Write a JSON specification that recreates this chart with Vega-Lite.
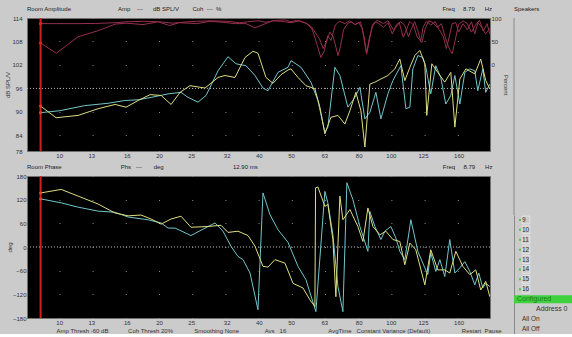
{
  "$schema": "https://vega.github.io/schema/vega-lite/v6.json",
  "background": "#cbcbcb",
  "padding": {"left": 4, "top": 5, "right": 2, "bottom": 0},
  "config": {
    "font": "Liberation Sans",
    "view": {"fill": "#000000", "stroke": "#707070", "strokeWidth": 1},
    "axis": {"labelFontSize": 6, "titleFontSize": 6, "titleFontWeight": "normal", "labelColor": "#333333", "titleColor": "#333333", "domain": false, "ticks": false, "labelPadding": 3, "grid": false, "labelOverlap": false, "labelBound": false, "tickCount": 30},
    "title": {"fontSize": 6, "fontWeight": "normal", "color": "#222222", "anchor": "start", "offset": 3, "frame": "group"},
    "line": {"strokeWidth": 1, "clip": true}
  },
  "datasets": {
    "amp": [
      {"s":"c","f":8.79,"v":89.8},{"s":"c","f":10.05,"v":90.3},{"s":"c","f":11.95,"v":91.6},{"s":"c","f":14.04,"v":92.2},{"s":"c","f":15.77,"v":92.9},{"s":"c","f":17.3,"v":93.1},{"s":"c","f":18.93,"v":93.7},{"s":"c","f":21.3,"v":94.6},{"s":"c","f":23.3,"v":95.0},{"s":"c","f":24.46,"v":93.7},{"s":"c","f":26.23,"v":92.5},{"s":"c","f":27.73,"v":94.2},{"s":"c","f":30.13,"v":100.5},{"s":"c","f":32.28,"v":104.1},{"s":"c","f":34.12,"v":102.3},{"s":"c","f":36.59,"v":101.8},{"s":"c","f":38.94,"v":99.3},{"s":"c","f":41.16,"v":96.1},{"s":"c","f":42.61,"v":95.4},{"s":"c","f":45.67,"v":100.1},{"s":"c","f":48.96,"v":101.4},{"s":"c","f":50.0,"v":103.1},{"s":"c","f":53.58,"v":101.4},{"s":"c","f":57.41,"v":97.6},{"s":"c","f":60.26,"v":92.9},{"s":"c","f":63.25,"v":84.8},{"s":"c","f":64.58,"v":86.1},{"s":"c","f":67.8,"v":101.4},{"s":"c","f":70.2,"v":99.3},{"s":"c","f":74.21,"v":91.2},{"s":"c","f":77.91,"v":93.7},{"s":"c","f":80.66,"v":96.3},{"s":"c","f":83.51,"v":88.2},{"s":"c","f":86.45,"v":89.9},{"s":"c","f":90.13,"v":95.0},{"s":"c","f":93.31,"v":88.2},{"s":"c","f":97.95,"v":94.6},{"s":"c","f":101.4,"v":98.0},{"s":"c","f":107.2,"v":101.8},{"s":"c","f":111.0,"v":90.8},{"s":"c","f":114.1,"v":91.2},{"s":"c","f":116.5,"v":101.0},{"s":"c","f":120.6,"v":104.4},{"s":"c","f":124.9,"v":103.9},{"s":"c","f":127.5,"v":101.4},{"s":"c","f":131.9,"v":94.6},{"s":"c","f":136.6,"v":101.8},{"s":"c","f":141.4,"v":98.8},{"s":"c","f":146.4,"v":92.0},{"s":"c","f":151.6,"v":94.2},{"s":"c","f":155.9,"v":99.3},{"s":"c","f":161.4,"v":92.0},{"s":"c","f":167.1,"v":100.1},{"s":"c","f":173.0,"v":101.0},{"s":"c","f":179.1,"v":100.5},{"s":"c","f":182.8,"v":95.4},{"s":"c","f":189.3,"v":101.0},{"s":"c","f":193.2,"v":95.0},{"s":"c","f":198.7,"v":97.1},
      {"s":"y","f":8.79,"v":91.5},{"s":"y","f":9.79,"v":88.5},{"s":"y","f":11.41,"v":89.1},{"s":"y","f":13.1,"v":90.8},{"s":"y","f":14.75,"v":91.9},{"s":"y","f":15.91,"v":91.2},{"s":"y","f":17.3,"v":92.9},{"s":"y","f":18.8,"v":94.4},{"s":"y","f":20.29,"v":94.2},{"s":"y","f":21.75,"v":91.9},{"s":"y","f":23.15,"v":95.0},{"s":"y","f":24.8,"v":96.7},{"s":"y","f":27.54,"v":96.1},{"s":"y","f":30.13,"v":98.8},{"s":"y","f":31.62,"v":99.3},{"s":"y","f":33.89,"v":98.8},{"s":"y","f":36.33,"v":103.9},{"s":"y","f":38.4,"v":105.5},{"s":"y","f":39.75,"v":105.0},{"s":"y","f":42.02,"v":98.8},{"s":"y","f":44.12,"v":97.3},{"s":"y","f":46.64,"v":99.5},{"s":"y","f":48.96,"v":100.7},{"s":"y","f":49.99,"v":101.0},{"s":"y","f":52.48,"v":98.8},{"s":"y","f":55.47,"v":96.7},{"s":"y","f":59.02,"v":95.9},{"s":"y","f":61.1,"v":91.2},{"s":"y","f":63.25,"v":84.4},{"s":"y","f":65.95,"v":88.6},{"s":"y","f":69.24,"v":89.1},{"s":"y","f":72.68,"v":86.9},{"s":"y","f":75.25,"v":90.3},{"s":"y","f":78.45,"v":95.0},{"s":"y","f":81.22,"v":90.3},{"s":"y","f":83.51,"v":81.0},{"s":"y","f":86.45,"v":97.1},{"s":"y","f":89.51,"v":97.6},{"s":"y","f":93.31,"v":98.4},{"s":"y","f":97.95,"v":99.3},{"s":"y","f":102.8,"v":101.0},{"s":"y","f":106.4,"v":103.5},{"s":"y","f":110.2,"v":98.0},{"s":"y","f":114.1,"v":101.4},{"s":"y","f":118.1,"v":104.4},{"s":"y","f":122.3,"v":105.7},{"s":"y","f":126.6,"v":102.3},{"s":"y","f":128.3,"v":89.1},{"s":"y","f":132.9,"v":102.3},{"s":"y","f":138.5,"v":100.1},{"s":"y","f":145.4,"v":97.6},{"s":"y","f":151.6,"v":100.1},{"s":"y","f":155.9,"v":86.1},{"s":"y","f":161.4,"v":98.4},{"s":"y","f":168.3,"v":101.0},{"s":"y","f":179.1,"v":99.7},{"s":"y","f":186.6,"v":103.5},{"s":"y","f":193.2,"v":98.0},{"s":"y","f":198.7,"v":95.9}
    ],
    "coh": [
      {"s":"a","f":8.79,"v":88},{"s":"a","f":9.8,"v":88},{"s":"a","f":11.4,"v":88},{"s":"a","f":13.1,"v":88.5},{"s":"a","f":14.75,"v":90},{"s":"a","f":16,"v":92},{"s":"a","f":18,"v":93},{"s":"a","f":19.9,"v":92},{"s":"a","f":22,"v":89},{"s":"a","f":24.5,"v":92},{"s":"a","f":26,"v":93},{"s":"a","f":29,"v":94},{"s":"a","f":32,"v":93},{"s":"a","f":35,"v":90},{"s":"a","f":37,"v":92},{"s":"a","f":40,"v":94},{"s":"a","f":42,"v":91},{"s":"a","f":45,"v":95},{"s":"a","f":48,"v":96},{"s":"a","f":50,"v":92},{"s":"a","f":52,"v":95},{"s":"a","f":55,"v":90},{"s":"a","f":57.5,"v":82},{"s":"a","f":59,"v":70},{"s":"a","f":61,"v":55},{"s":"a","f":62.5,"v":35},{"s":"a","f":64,"v":50},{"s":"a","f":65.5,"v":70},{"s":"a","f":67,"v":60},{"s":"a","f":68.3,"v":38},{"s":"a","f":69.3,"v":20},{"s":"a","f":70.5,"v":40},{"s":"a","f":72,"v":75},{"s":"a","f":74,"v":88},{"s":"a","f":76,"v":92},{"s":"a","f":78,"v":86},{"s":"a","f":80,"v":90},{"s":"a","f":82,"v":78},{"s":"a","f":83.5,"v":45},{"s":"a","f":84.5,"v":25},{"s":"a","f":86,"v":55},{"s":"a","f":88,"v":82},{"s":"a","f":90,"v":92},{"s":"a","f":92,"v":88},{"s":"a","f":95,"v":80},{"s":"a","f":98,"v":90},{"s":"a","f":101,"v":66},{"s":"a","f":104,"v":86},{"s":"a","f":107,"v":92},{"s":"a","f":110,"v":85},{"s":"a","f":113,"v":60},{"s":"a","f":115,"v":75},{"s":"a","f":118,"v":92},{"s":"a","f":121,"v":70},{"s":"a","f":123,"v":50},{"s":"a","f":125,"v":80},{"s":"a","f":128,"v":93},{"s":"a","f":132,"v":85},{"s":"a","f":136,"v":92},{"s":"a","f":140,"v":75},{"s":"a","f":144,"v":60},{"s":"a","f":147,"v":35},{"s":"a","f":150,"v":60},{"s":"a","f":153,"v":88},{"s":"a","f":157,"v":90},{"s":"a","f":160,"v":70},{"s":"a","f":165,"v":88},{"s":"a","f":170,"v":75},{"s":"a","f":175,"v":92},{"s":"a","f":179,"v":66},{"s":"a","f":183,"v":90},{"s":"a","f":188,"v":80},{"s":"a","f":193,"v":66},{"s":"a","f":198.7,"v":78},
      {"s":"b","f":8.79,"v":47},{"s":"b","f":9.8,"v":25},{"s":"b","f":11.4,"v":60},{"s":"b","f":13.1,"v":73},{"s":"b","f":14.75,"v":87},{"s":"b","f":15.9,"v":89},{"s":"b","f":17.9,"v":86},{"s":"b","f":19.9,"v":92},{"s":"b","f":21.5,"v":84},{"s":"b","f":23,"v":90},{"s":"b","f":26,"v":88},{"s":"b","f":28.5,"v":93},{"s":"b","f":31,"v":91},{"s":"b","f":34,"v":88},{"s":"b","f":36.6,"v":88},{"s":"b","f":38.9,"v":79},{"s":"b","f":41.2,"v":86},{"s":"b","f":44,"v":94},{"s":"b","f":46.6,"v":93},{"s":"b","f":50,"v":90},{"s":"b","f":53,"v":94},{"s":"b","f":56,"v":88},{"s":"b","f":58,"v":75},{"s":"b","f":60,"v":42},{"s":"b","f":61.5,"v":16},{"s":"b","f":63,"v":30},{"s":"b","f":64.5,"v":62},{"s":"b","f":66,"v":52},{"s":"b","f":68,"v":85},{"s":"b","f":70,"v":93},{"s":"b","f":72.7,"v":88},{"s":"b","f":75,"v":94},{"s":"b","f":78,"v":86},{"s":"b","f":81,"v":92},{"s":"b","f":83,"v":60},{"s":"b","f":84.5,"v":23},{"s":"b","f":86,"v":50},{"s":"b","f":88,"v":86},{"s":"b","f":91,"v":95},{"s":"b","f":95,"v":88},{"s":"b","f":98,"v":94},{"s":"b","f":102,"v":74},{"s":"b","f":106,"v":90},{"s":"b","f":109,"v":59},{"s":"b","f":111,"v":72},{"s":"b","f":114,"v":93},{"s":"b","f":117,"v":85},{"s":"b","f":120,"v":60},{"s":"b","f":124,"v":48},{"s":"b","f":127,"v":78},{"s":"b","f":130,"v":94},{"s":"b","f":134,"v":90},{"s":"b","f":138,"v":80},{"s":"b","f":142,"v":88},{"s":"b","f":146,"v":58},{"s":"b","f":149,"v":40},{"s":"b","f":151,"v":31},{"s":"b","f":153,"v":24},{"s":"b","f":156,"v":50},{"s":"b","f":160,"v":86},{"s":"b","f":165,"v":94},{"s":"b","f":170,"v":88},{"s":"b","f":175,"v":70},{"s":"b","f":180,"v":85},{"s":"b","f":185,"v":95},{"s":"b","f":190,"v":72},{"s":"b","f":195,"v":88},{"s":"b","f":198.7,"v":66}
    ],
    "phs": [
      {"s":"c","f":8.79,"v":122},{"s":"c","f":10.14,"v":112},{"s":"c","f":11.41,"v":101},{"s":"c","f":13.1,"v":91},{"s":"c","f":14.75,"v":88},{"s":"c","f":16.14,"v":76},{"s":"c","f":18.54,"v":69},{"s":"c","f":20.29,"v":61},{"s":"c","f":21.3,"v":48},{"s":"c","f":22.36,"v":48},{"s":"c","f":24.97,"v":29},{"s":"c","f":27.54,"v":48},{"s":"c","f":29.51,"v":61},{"s":"c","f":31.19,"v":40},{"s":"c","f":32.96,"v":2},{"s":"c","f":34.61,"v":-24},{"s":"c","f":35.83,"v":-32},{"s":"c","f":37.62,"v":-66},{"s":"c","f":39.75,"v":-159},{"s":"c","f":41.16,"v":137},{"s":"c","f":43.21,"v":82},{"s":"c","f":45.67,"v":44},{"s":"c","f":48.96,"v":12},{"s":"c","f":52.48,"v":-49},{"s":"c","f":55.47,"v":-83},{"s":"c","f":59.43,"v":-164},{"s":"c","f":63.25,"v":141},{"s":"c","f":64.58,"v":112},{"s":"c","f":66.87,"v":31},{"s":"c","f":69.24,"v":-100},{"s":"c","f":71.68,"v":-164},{"s":"c","f":73.7,"v":163},{"s":"c","f":76.83,"v":120},{"s":"c","f":80.66,"v":52},{"s":"c","f":85.26,"v":-11},{"s":"c","f":86.45,"v":90},{"s":"c","f":89.51,"v":52},{"s":"c","f":93.31,"v":19},{"s":"c","f":95.92,"v":40},{"s":"c","f":100,"v":52},{"s":"c","f":103.5,"v":23},{"s":"c","f":106.4,"v":-11},{"s":"c","f":110.2,"v":-32},{"s":"c","f":114.9,"v":69},{"s":"c","f":120.6,"v":-11},{"s":"c","f":126.6,"v":-53},{"s":"c","f":129.2,"v":-70},{"s":"c","f":131.9,"v":-15},{"s":"c","f":136.6,"v":-62},{"s":"c","f":140.5,"v":-32},{"s":"c","f":145.4,"v":-75},{"s":"c","f":150.5,"v":19},{"s":"c","f":155.9,"v":-66},{"s":"c","f":161.4,"v":-53},{"s":"c","f":167.1,"v":-37},{"s":"c","f":173.0,"v":-62},{"s":"c","f":179.1,"v":-96},{"s":"c","f":184.1,"v":-66},{"s":"c","f":189.3,"v":-104},{"s":"c","f":193.2,"v":-92},{"s":"c","f":198.7,"v":-100},
      {"s":"y","f":8.79,"v":137},{"s":"y","f":10.14,"v":146},{"s":"y","f":11.41,"v":129},{"s":"y","f":13.1,"v":109},{"s":"y","f":14.75,"v":86},{"s":"y","f":16.14,"v":79},{"s":"y","f":17.66,"v":81},{"s":"y","f":18.93,"v":71},{"s":"y","f":20.29,"v":58},{"s":"y","f":21.75,"v":71},{"s":"y","f":23.31,"v":78},{"s":"y","f":24.97,"v":50},{"s":"y","f":28.11,"v":52},{"s":"y","f":30.76,"v":55},{"s":"y","f":32.28,"v":37},{"s":"y","f":34.61,"v":40},{"s":"y","f":37.1,"v":29},{"s":"y","f":38.94,"v":2},{"s":"y","f":41.16,"v":-49},{"s":"y","f":42.61,"v":-51},{"s":"y","f":44.73,"v":-32},{"s":"y","f":47.95,"v":-41},{"s":"y","f":50.69,"v":-92},{"s":"y","f":54.33,"v":-104},{"s":"y","f":57.02,"v":-134},{"s":"y","f":59.02,"v":-151},{"s":"y","f":59.3,"v":150},{"s":"y","f":60.26,"v":152},{"s":"y","f":63.25,"v":103},{"s":"y","f":64.58,"v":108},{"s":"y","f":66.87,"v":19},{"s":"y","f":68.27,"v":-126},{"s":"y","f":70.2,"v":129},{"s":"y","f":71.68,"v":69},{"s":"y","f":75.25,"v":95},{"s":"y","f":79.54,"v":52},{"s":"y","f":82.36,"v":14},{"s":"y","f":85.26,"v":99},{"s":"y","f":88.28,"v":52},{"s":"y","f":92.67,"v":31},{"s":"y","f":96.58,"v":40},{"s":"y","f":101.4,"v":19},{"s":"y","f":106.4,"v":14},{"s":"y","f":110.2,"v":-45},{"s":"y","f":114.1,"v":10},{"s":"y","f":118.9,"v":-7},{"s":"y","f":126.6,"v":-96},{"s":"y","f":131.9,"v":-7},{"s":"y","f":138.5,"v":-58},{"s":"y","f":145.4,"v":-58},{"s":"y","f":150.5,"v":-66},{"s":"y","f":157.0,"v":-11},{"s":"y","f":164.8,"v":-49},{"s":"y","f":173.0,"v":-70},{"s":"y","f":180.3,"v":-58},{"s":"y","f":186.6,"v":-109},{"s":"y","f":193.2,"v":-87},{"s":"y","f":198.7,"v":-126}
    ],
    "side": [
      {"item":"9","kind":"spk"},{"item":"10","kind":"spk"},{"item":"11","kind":"spk"},{"item":"12","kind":"spk"},{"item":"13","kind":"spk"},{"item":"14","kind":"spk"},{"item":"15","kind":"spk"},{"item":"16","kind":"spk"},
      {"item":"Configured","kind":"cfg"},{"item":"Address 0","kind":"addr"},{"item":"All On","kind":"btn"},{"item":"All Off","kind":"btn"}
    ]
  },
  "hconcat": [
    {
      "vconcat": [
        {
          "width": 463,
          "height": 133,
          "title": {"text": "Room Amplitude\u2003\u2003\u2003\u2003\u2003\u2003\u2003\u00a0\u00a0\u00a0Amp\u00a0\u00a0\u00a0\u00a0---\u00a0\u00a0\u00a0\u00a0\u00a0\u00a0dB SPL/V\u00a0\u00a0\u00a0\u00a0\u00a0\u00a0\u00a0\u00a0Coh\u00a0\u00a0---\u00a0\u00a0%\u2003\u2003\u2003\u2003\u2003\u2003\u2003\u2003\u2003\u2003\u2003\u2003\u2003\u2003\u2003\u2003\u2003\u2003\u2003\u2003\u2003\u2003\u2003\u2003\u2003\u2003\u2003\u2003\u2003\u2003\u2003\u2003\u2003\u2003\u2003\u2003\u00a0\u00a0\u00a0Freq\u00a0\u00a0\u00a0\u00a0\u00a08.79\u00a0\u00a0\u00a0\u00a0\u00a0\u00a0Hz"},
          "layer": [
            {
              "data": {"name": "coh"},
              "layer": [
                {
                  "mark": {"type": "line", "color": "#96304f", "strokeWidth": 1, "clip": true},
                  "encoding": {
                    "x": {"field": "f", "type": "quantitative", "scale": {"type": "log", "domain": [8, 199], "nice": false}, "axis": {"values": [10, 12.5, 16, 20, 25, 32, 40, 50, 63, 80, 100, 125, 160], "format": ".0f", "title": null, "labelPadding": 1, "labelOverlap": false, "tickCount": 30}},
                    "y": {"field": "v", "type": "quantitative", "scale": {"domain": [-183, 100], "nice": false, "zero": false}, "axis": {"orient": "right", "title": "Percent", "values": [0, 50, 100], "labelPadding": 1, "titlePadding": 1, "labelOverlap": false, "tickCount": 30}},
                    "detail": {"field": "s"}
                  }
                },
                {
                  "transform": [{"filter": "datum.f < 9"}],
                  "mark": {"type": "point", "filled": true, "color": "#ff3030", "size": 10, "opacity": 1},
                  "encoding": {
                    "x": {"field": "f", "type": "quantitative"},
                    "y": {"field": "v", "type": "quantitative"}
                  }
                }
              ]
            },
            {
              "layer": [
                {
                  "data": {"values": [{}]},
                  "mark": {"type": "rule", "color": "#d02020", "strokeWidth": 2},
                  "encoding": {"x": {"datum": 8.79}}
                },
                {
                  "data": {"values": [{}]},
                  "mark": {"type": "rule", "color": "#bbbbbb", "strokeDash": [1, 2], "strokeWidth": 1},
                  "encoding": {"y": {"datum": 96}}
                },
                {
                  "data": {"name": "amp"},
                  "mark": {"type": "line", "strokeWidth": 1, "clip": true},
                  "encoding": {
                    "x": {"field": "f", "type": "quantitative"},
                    "y": {"field": "v", "type": "quantitative", "scale": {"domain": [80, 114], "nice": false, "zero": false}, "axis": {"title": "dB SPL/V", "values": [80, 84, 90, 96, 102, 108, 114], "tickCount": 30, "labelExpr": "datum.value == 80 ? '78' : datum.label", "labelOverlap": false, "grid": true, "gridColor": "#8a8a8a", "gridDash": [1, 32.2], "gridDashOffset": 1.3, "labelPadding": 5, "titlePadding": 1}},
                    "color": {"field": "s", "type": "nominal", "scale": {"domain": ["c", "y"], "range": ["#72c6cc", "#dede80"]}, "legend": null}
                  }
                },
                {
                  "data": {"name": "amp"},
                  "transform": [{"filter": "datum.f < 9"}],
                  "mark": {"type": "point", "filled": true, "color": "#ff3030", "size": 10, "opacity": 1},
                  "encoding": {
                    "x": {"field": "f", "type": "quantitative"},
                    "y": {"field": "v", "type": "quantitative"}
                  }
                }
              ]
            }
          ],
          "resolve": {"scale": {"y": "independent"}}
        },
        {
          "width": 463,
          "height": 142,
          "title": {"text": "Room Phase\u2003\u2003\u2003\u2003\u2003\u2003\u2003\u2003\u2003\u00a0\u00a0\u00a0Phs\u00a0\u00a0\u00a0---\u00a0\u00a0\u00a0\u00a0\u00a0\u00a0\u00a0deg\u2003\u2003\u2003\u2003\u2003\u2003\u2003\u2003\u2003\u2003\u2003\u00a0\u00a012.90 ms\u2003\u2003\u2003\u2003\u2003\u2003\u2003\u2003\u2003\u2003\u2003\u2003\u2003\u2003\u2003\u2003\u2003\u2003\u2003\u2003\u2003\u2003\u2003\u2003\u2003\u2003\u2003\u2003\u2003\u2003\u00a0\u00a0\u00a0Freq\u00a0\u00a0\u00a0\u00a0\u00a08.79\u00a0\u00a0\u00a0\u00a0\u00a0\u00a0Hz"},
          "layer": [
            {
              "data": {"values": [{}]},
              "mark": {"type": "rule", "color": "#d02020", "strokeWidth": 2},
              "encoding": {"x": {"datum": 8.79}}
            },
            {
              "data": {"values": [{}]},
              "mark": {"type": "rule", "color": "#bbbbbb", "strokeDash": [1, 2], "strokeWidth": 1},
              "encoding": {"y": {"datum": 0}}
            },
            {
              "data": {"name": "phs"},
              "mark": {"type": "line", "strokeWidth": 1, "clip": true},
              "encoding": {
                "x": {"field": "f", "type": "quantitative", "scale": {"type": "log", "domain": [8, 199], "nice": false}, "axis": {"values": [10, 12.5, 16, 20, 25, 32, 40, 50, 63, 80, 100, 125, 160], "tickCount": 30, "format": ".0f", "labelPadding": 1, "labelOverlap": false, "titleAnchor": "start", "titleAlign": "left", "titleX": 29, "titlePadding": 2, "title": "Amp Thresh\u00a0-60 dB\u2003\u2003\u2003\u00a0Coh Thresh\u00a020%\u2003\u2003\u2003\u00a0\u00a0Smoothing\u00a0None\u2003\u2003\u2003\u2003\u00a0Avs\u00a0\u00a0\u00a016\u2003\u2003\u2003\u2003\u2003\u2003\u2003AvgTime\u00a0\u00a0\u00a0Constant Variance (Default)\u2003\u2003\u2003\u2003\u2003\u00a0Restart\u00a0\u00a0Pause"}},
                "y": {"field": "v", "type": "quantitative", "scale": {"domain": [-180, 180], "nice": false, "zero": false}, "axis": {"title": "deg", "values": [-180, -120, -60, 0, 60, 120, 180], "tickCount": 30, "labelOverlap": false, "grid": true, "gridColor": "#8a8a8a", "gridDash": [1, 32.2], "gridDashOffset": 1.3, "labelPadding": 1, "titlePadding": 0}},
                "color": {"field": "s", "type": "nominal", "scale": {"domain": ["c", "y"], "range": ["#72c6cc", "#dede80"]}, "legend": null}
              }
            },
            {
              "data": {"name": "phs"},
              "transform": [{"filter": "datum.f < 9"}],
              "mark": {"type": "point", "filled": true, "color": "#ff3030", "size": 10, "opacity": 1},
              "encoding": {
                "x": {"field": "f", "type": "quantitative"},
                "y": {"field": "v", "type": "quantitative"}
              }
            }
          ]
        }
      ],
      "spacing": 25,
      "bounds": "flush"
    },
    {
      "vconcat": [
        {
          "width": 58,
          "height": 197,
          "view": {"fill": null, "stroke": null},
          "title": {"text": "Speakers", "fontSize": 6, "offset": 6},
          "data": {"values": [{}]},
          "mark": {"type": "rule", "color": "#8a8a8a", "strokeWidth": 1},
          "encoding": {"x": {"datum": 0, "scale": {"domain": [0, 1]}, "axis": null}}
        },
        {
          "width": 58,
          "height": {"step": 9.9},
          "view": {"fill": null, "stroke": null},
          "data": {"name": "side"},
          "encoding": {
            "y": {"field": "item", "type": "ordinal", "sort": null, "scale": {"domain": ["9", "10", "11", "12", "13", "14", "15", "16", "Configured", "Address 0", "All On", "All Off"], "paddingInner": 0, "paddingOuter": 0}, "axis": {"labels": false, "ticks": false, "title": null, "domain": true, "domainColor": "#8a8a8a", "domainWidth": 1}}
          },
          "layer": [
            {
              "transform": [{"filter": "datum.kind == 'cfg'"}],
              "mark": {"type": "bar", "color": "#3fd03f", "height": 8}
            },
            {
              "transform": [{"filter": "datum.kind == 'spk'"}],
              "mark": {"type": "point", "shape": "square", "filled": false, "stroke": "#f2f2f2", "strokeWidth": 1, "size": 60, "xOffset": -17}
            },
            {
              "transform": [{"filter": "datum.kind == 'spk'"}],
              "mark": {"type": "point", "shape": "square", "filled": true, "color": "#30b030", "size": 4, "xOffset": -23}
            },
            {
              "transform": [{"filter": "datum.kind == 'spk' || datum.kind == 'btn'"}],
              "mark": {"type": "text", "align": "left", "dx": -21, "fontSize": 6.5, "color": "#333333"},
              "encoding": {"text": {"field": "item"}}
            },
            {
              "transform": [{"filter": "datum.kind == 'cfg'"}],
              "mark": {"type": "text", "align": "left", "dx": -26, "fontSize": 7, "color": "#1f7a1f"},
              "encoding": {"text": {"field": "item"}}
            },
            {
              "transform": [{"filter": "datum.kind == 'addr'"}],
              "mark": {"type": "text", "align": "left", "dx": -7, "fontSize": 7, "color": "#333333"},
              "encoding": {"text": {"field": "item"}}
            }
          ]
        }
      ],
      "spacing": 0,
      "bounds": "flush"
    }
  ],
  "spacing": 4
}
